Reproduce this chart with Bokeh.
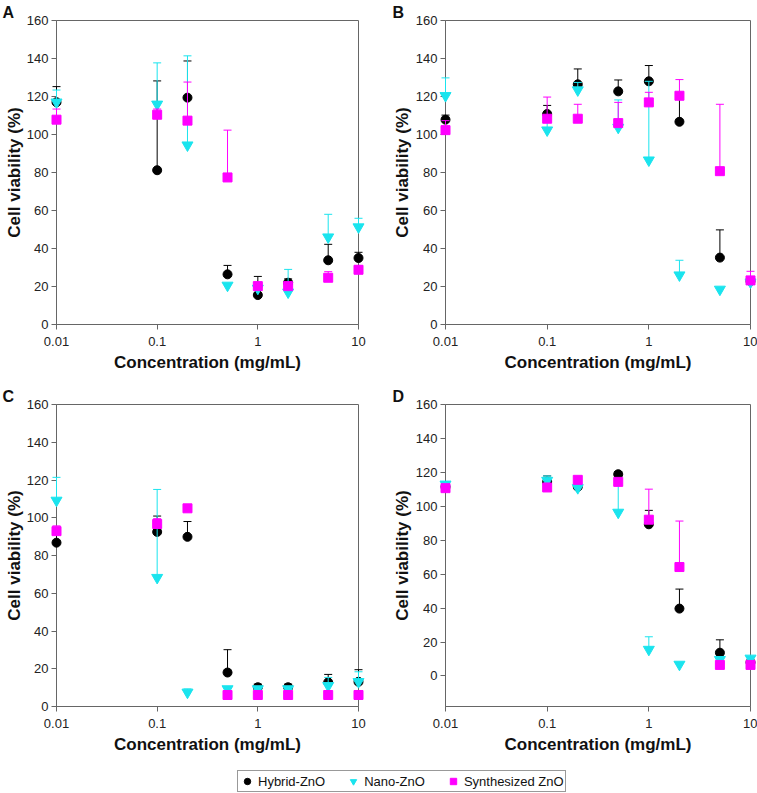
from bokeh.plotting import figure
from bokeh.layouts import column, row
from bokeh.models import (ColumnDataSource, FixedTicker, NumeralTickFormatter,
                          Legend, LegendItem, Range1d)
from bokeh.embed import file_html
from bokeh.resources import INLINE

# ---------------- data ----------------
conc = [0.01, 0.1, 0.2, 0.5, 1, 2, 5, 10]
x_ticks = [0.01, 0.1, 1, 10]
y_ticks = [0, 20, 40, 60, 80, 100, 120, 140, 160]
series_names = ["Hybrid-ZnO", "Nano-ZnO", "Synthesized ZnO"]

# Panel A
hyb_A = [117.0, 81.2, 119.4, 26.4, 15.5, 22.0, 33.8, 35.0]
hyb_A_err = [8.2, 47.0, 19.3, 4.7, 9.8, 2.0, 8.4, 3.0]
nano_A = [117.0, 115.9, 94.4, 20.6, 19.0, 17.0, 46.0, 51.3]
nano_A_err = [6.4, 21.8, 47.0, 1.0, 1.0, 12.0, 12.0, 4.6]
syn_A = [107.8, 110.4, 107.3, 77.4, 20.2, 20.2, 24.6, 28.8]
syn_A_err = [5.6, 3.0, 20.3, 24.9, 2.0, 2.0, 3.2, 2.0]

# Panel B
hyb_B = [107.8, 110.8, 126.4, 122.7, 128.0, 106.7, 35.2, 22.9]
hyb_B_err = [2.4, 4.5, 8.1, 6.0, 8.3, 13.0, 14.6, 1.5]
nano_B = [120.4, 102.3, 123.4, 103.7, 86.5, 26.0, 18.5, 22.3]
nano_B_err = [9.4, 6.0, 4.0, 14.5, 41.5, 7.8, 0.5, 1.0]
syn_B = [102.3, 108.3, 108.3, 106.0, 116.9, 120.4, 80.7, 23.2]
syn_B_err = [5.0, 11.4, 7.6, 10.9, 5.3, 8.5, 35.2, 4.8]

# Panel C
hyb_C = [86.8, 92.5, 89.9, 18.0, 10.2, 10.2, 12.8, 13.1]
hyb_C_err = [5.0, 8.4, 8.1, 12.1, 1.7, 1.7, 4.2, 6.4]
nano_C = [109.2, 68.3, 7.5, 9.3, 9.3, 9.3, 11.0, 13.1]
nano_C_err = [12.2, 46.7, 1.8, 0.9, 0.5, 0.5, 4.4, 5.3]
syn_C = [92.9, 96.7, 105.0, 6.1, 6.1, 6.1, 6.1, 6.1]
syn_C_err = [2.8, 2.8, 0.5, 0.5, 0.5, 0.5, 0.5, 0.5]

# Panel D
hyb_D = [111.5, 114.4, 111.5, 118.9, 89.4, 39.7, 13.7, 8.0]
hyb_D_err = [1.5, 3.5, 1.5, 1.6, 8.2, 11.5, 7.6, 1.0]
nano_D = [113.0, 115.2, 110.9, 96.4, 15.6, 6.8, 9.6, 10.4]
nano_D_err = [0.5, 2.7, 1.0, 16.6, 7.5, 0.5, 0.5, 0.5]
syn_D = [110.7, 111.1, 115.6, 114.4, 92.1, 64.2, 6.5, 6.5]
syn_D_err = [1.0, 1.0, 1.0, 1.0, 18.0, 27.1, 0.5, 0.5]

# ---------------- styling ----------------
COLORS = ["#000000", "#1AE4EE", "#FF00FF"]
MARKERS = ["circle", "inverted_triangle", "square"]
SIZES = [9, 11, 9]
FONT = "Liberation Sans"
AXIS_COL = "#666666"


def make_panel(letter, series, width, height, bl, br, bb, ymin, letter_off, ylab_standoff):
    p = figure(width=width, height=height, x_axis_type="log",
               x_range=Range1d(0.01, 10), y_range=Range1d(ymin, 160),
               output_backend="svg", toolbar_location=None,
               min_border_left=bl, min_border_right=br,
               min_border_top=20, min_border_bottom=bb)
    p.xgrid.visible = False
    p.ygrid.visible = False
    p.outline_line_color = AXIS_COL
    p.outline_line_width = 1
    p.background_fill_color = "white"

    # panel letter as the title, pushed left over the axis area
    p.title.text = letter
    p.title.align = "left"
    p.title.offset = letter_off
    p.title.standoff = 0
    p.title.text_font = FONT
    p.title.text_font_size = "16px"
    p.title.text_font_style = "bold"
    p.title.text_color = "#111111"
    p.title.text_line_height = 1.0

    p.xaxis.ticker = FixedTicker(ticks=x_ticks, minor_ticks=[])
    p.xaxis.formatter = NumeralTickFormatter(format="0.[00]")
    p.yaxis.ticker = FixedTicker(ticks=y_ticks, minor_ticks=[])
    p.axis.minor_tick_line_color = None
    p.axis.major_tick_in = 0
    p.axis.major_tick_out = 5
    p.axis.axis_line_color = AXIS_COL
    p.axis.major_tick_line_color = AXIS_COL
    p.axis.major_label_text_font = FONT
    p.axis.major_label_text_font_size = "13px"
    p.axis.major_label_text_color = "#222222"
    p.xaxis.major_label_standoff = 7
    p.yaxis.major_label_standoff = 3
    p.axis.axis_label_text_font = FONT
    p.axis.axis_label_text_font_size = "17px"
    p.axis.axis_label_text_font_style = "bold"
    p.axis.axis_label_text_color = "#111111"
    p.xaxis.axis_label = "Concentration (mg/mL)"
    p.yaxis.axis_label = "Cell viability (%)"
    p.xaxis.axis_label_standoff = 4
    p.yaxis.axis_label_standoff = ylab_standoff

    for (vals, errs), col, mk, sz in zip(series, COLORS, MARKERS, SIZES):
        top = [v + e for v, e in zip(vals, errs)]
        src = ColumnDataSource(dict(x=conc, y=vals, top=top))
        p.segment(x0="x", y0="y", x1="x", y1="top", source=src,
                  line_color=col, line_width=1, level="annotation")
        p.scatter(x="x", y="top", source=src, marker="dash", size=8,
                  line_color=col, line_width=1, level="annotation")
        p.scatter(x="x", y="y", source=src, marker=mk, size=sz,
                  fill_color=col, line_color=col, level="annotation")
    return p


pA = make_panel("A", [(hyb_A, hyb_A_err), (nano_A, nano_A_err), (syn_A, syn_A_err)],
                386, 384, 56, 28, 60, 0, -54, 0)
pB = make_panel("B", [(hyb_B, hyb_B_err), (nano_B, nano_B_err), (syn_B, syn_B_err)],
                371, 384, 59, 7, 60, 0, -53, 1)
pC = make_panel("C", [(hyb_C, hyb_C_err), (nano_C, nano_C_err), (syn_C, syn_C_err)],
                386, 372, 56, 28, 48, 0, -54, 0)
pD = make_panel("D", [(hyb_D, hyb_D_err), (nano_D, nano_D_err), (syn_D, syn_D_err)],
                371, 372, 59, 7, 48, -18, -53, 1)

# ---------------- legend strip ----------------
lg = figure(width=757, height=37, output_backend="svg", toolbar_location=None,
            min_border=0, x_range=Range1d(0, 1), y_range=Range1d(0, 1))
lg.axis.visible = False
lg.xgrid.visible = False
lg.ygrid.visible = False
lg.outline_line_color = None
items = []
for name, col, mk in zip(series_names, COLORS, MARKERS):
    r = lg.scatter(x=[float("nan")], y=[float("nan")], marker=mk, size=9,
                   fill_color=col, line_color=col)
    items.append(LegendItem(label=name, renderers=[r]))
leg = Legend(items=items, orientation="horizontal", location=(237, 1),
             border_line_color="#333333", border_line_width=1,
             padding=1, spacing=20, glyph_width=16, glyph_height=18,
             label_height=12, label_standoff=3, margin=0,
             label_text_font=FONT, label_text_font_size="13px",
             label_text_color="#111111", background_fill_alpha=1)
lg.add_layout(leg)

layout = column(row(pA, pB), row(pC, pD), lg)

open("out.html", "w").write(file_html(layout, INLINE))
